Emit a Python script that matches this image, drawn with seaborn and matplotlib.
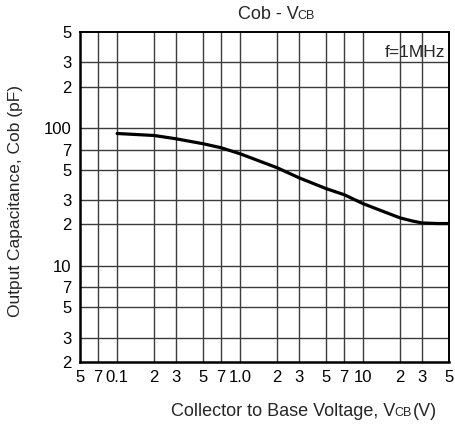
"""Cob - VCB characteristic (log-log datasheet style)."""

import matplotlib
matplotlib.use("Agg")
import matplotlib.pyplot as plt
import matplotlib.ticker as mticker
import pandas as pd
import seaborn as sns

# collector-base voltage (V) and output capacitance (pF)
vcb = [0.1, 0.2, 0.3, 0.5, 0.7, 1.0, 2, 3, 5, 7, 10, 15, 20, 25, 30, 40, 50]
cob = [91.5, 88.5, 83.8, 77.1, 72.1, 65.2, 51.6, 43.7, 36.4, 32.9, 28.3, 24.6, 22.3, 21.2, 20.5, 20.3, 20.3]

x_ticks = [0.05, 0.07, 0.1, 0.2, 0.3, 0.5, 0.7, 1, 2, 3, 5, 7, 10, 20, 30, 50]
x_labels = ["5", "7", "0.1", "2", "3", "5", "7", "1.0", "2", "3", "5", "7", "10", "2", "3", "5"]
y_ticks = [2, 3, 5, 7, 10, 20, 30, 50, 70, 100, 200, 300, 500]
y_labels = ["2", "3", "5", "7", "10", "2", "3", "5", "7", "100", "2", "3", "5"]

sns.set_style("white")
plt.rcParams["font.family"] = ["Liberation Sans", "DejaVu Sans"]

df = pd.DataFrame({"vcb": vcb, "cob": cob})

fig = plt.figure(figsize=(4.55, 4.26), dpi=100)
ax = fig.add_axes([0.176, 0.150, 0.811, 0.775])

ax.set_xscale("log")
ax.set_yscale("log")
ax.set_xlim(0.05, 50)
ax.set_ylim(2, 500)

for v in x_ticks[1:-1]:
    ax.axvline(v, color="#3c3c3c", lw=1.0, zorder=1)
for v in y_ticks[1:-1]:
    ax.axhline(v, color="#3c3c3c", lw=1.0, zorder=1)

sns.lineplot(data=df, x="vcb", y="cob", color="black", lw=2.3, ax=ax, zorder=3)

ax.xaxis.set_major_locator(mticker.FixedLocator(x_ticks))
ax.xaxis.set_major_formatter(mticker.FixedFormatter(x_labels))
ax.xaxis.set_minor_locator(mticker.NullLocator())
ax.yaxis.set_major_locator(mticker.FixedLocator(y_ticks))
ax.yaxis.set_major_formatter(mticker.FixedFormatter(y_labels))
ax.yaxis.set_minor_locator(mticker.NullLocator())
ax.tick_params(axis="both", length=0, labelsize=12, colors="black")
ax.tick_params(axis="x", pad=6)
ax.tick_params(axis="y", pad=6)

for side in ["left", "bottom"]:
    ax.spines[side].set_linewidth(1.8)
for side in ["top", "right"]:
    ax.spines[side].set_linewidth(1.4)
for sp in ax.spines.values():
    sp.set_color("black")

ax.set_xlabel("")
ax.set_ylabel("")

ax.text(0.989, 0.939, "f=1MHz", transform=ax.transAxes, ha="right", va="center", fontsize=12.5)

# title with small-caps subscript
t1 = fig.text(0.523, 0.965, "Cob - V", ha="left", va="center", fontsize=13)
ax.annotate("CB", xy=(1, 0), xycoords=t1, xytext=(-1, 1), textcoords="offset points",
            ha="left", va="bottom", fontsize=9)

# x axis label
t2 = fig.text(0.375, 0.033, "Collector to Base Voltage, V", ha="left", va="center", fontsize=13)
t3 = ax.annotate("CB", xy=(1, 0), xycoords=t2, xytext=(-0.5, 1), textcoords="offset points",
                 ha="left", va="bottom", fontsize=9)
ax.annotate("(V)", xy=(1, 0), xycoords=t3, xytext=(1, -1), textcoords="offset points",
            ha="left", va="bottom", fontsize=13)

fig.text(0.035, 0.528, "Output Capacitance, Cob (pF)", rotation=90, ha="center", va="center",
         fontsize=12.5)

fig.savefig("out.png", dpi=100)
